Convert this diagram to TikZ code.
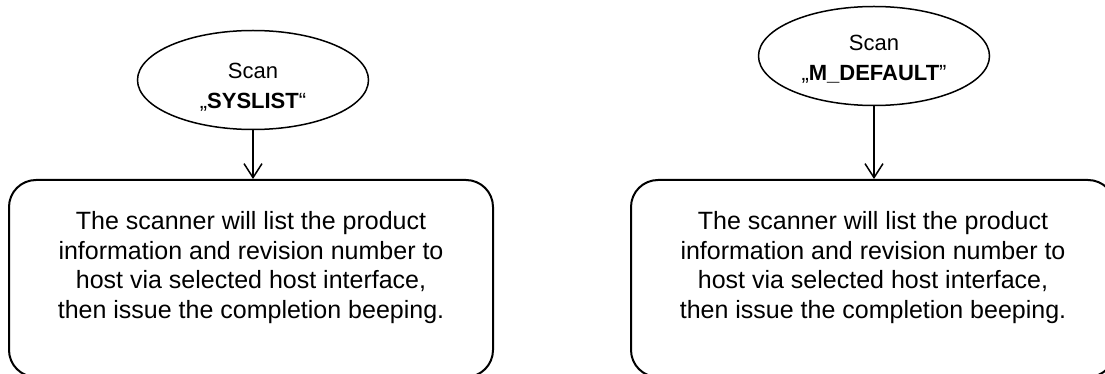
\documentclass[tikz,border=0pt]{standalone}
\usepackage{fontspec}
\setmainfont{Liberation Sans}
\usetikzlibrary{arrows.meta,shapes.geometric}
\begin{document}
\begin{tikzpicture}[x=1pt,y=-1pt,
  scanell/.style={draw, line width=1.5pt, ellipse, minimum width=231pt, minimum height=99pt, inner sep=0pt},
  stepbox/.style={draw, line width=2pt, rounded corners=27pt, minimum width=484pt, minimum height=197pt, inner sep=0pt},
  scantext/.style={anchor=north, align=center, inner sep=0pt, font=\fontsize{22pt}{30pt}\selectfont},
  boxtext/.style={align=center, inner sep=0pt, font=\fontsize{25pt}{29.5pt}\selectfont},
  arr/.style={line width=1.5pt, -{Straight Barb[length=14pt,width=18pt]}}]
\useasboundingbox (0,0) rectangle (1105,374);
\clip (0,0) rectangle (1105,374);
% left column
\node[scanell] (e1) at (253,80) {};
\node[scantext] (t1) at (253,62.5) {Scan\\„\textbf{SYSLIST}“};
\node[stepbox] (b1) at (251,278.5) {};
\node[boxtext] (bt1) at (251,267.5) {The scanner will list the product\\information and revision number to\\host via selected host interface,\\then issue the completion beeping.};
\draw[arr] (e1.south) -- (e1.south |- b1.north);
% right column
\node[scanell] (e2) at (874,56) {};
\node[scantext] (t2) at (874,34.5) {Scan\\„\textbf{M\_DEFAULT}”};
\node[stepbox] (b2) at (873,278.5) {};
\node[boxtext] (bt2) at (873,267.5) {The scanner will list the product\\information and revision number to\\host via selected host interface,\\then issue the completion beeping.};
\draw[arr] (e2.south) -- (e2.south |- b2.north);
\end{tikzpicture}
\end{document}
